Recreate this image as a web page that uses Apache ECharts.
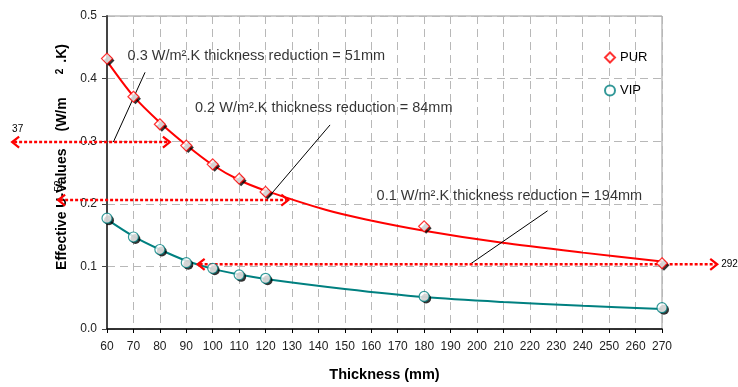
<!DOCTYPE html>
<html>
<head>
<meta charset="utf-8">
<script src="https://cdn.jsdelivr.net/npm/echarts@6/dist/echarts.min.js"></script>
<style>
html, body { margin: 0; padding: 0; background: #fff; }
#main { width: 738px; height: 387px; }
</style>
</head>
<body>
<div id="main"></div>
<script>
// measured points
var thickness = [60, 70, 80, 90, 100, 110, 120, 180, 270];
var purU = [0.432, 0.371, 0.327, 0.293, 0.263, 0.240, 0.219, 0.164, 0.105];
var vipU = [0.177, 0.147, 0.127, 0.106, 0.097, 0.0865, 0.081, 0.052, 0.034];

// trend curves
var purFitX = [60, 70, 80, 90, 100, 110, 120, 143, 158, 180, 209, 240, 270];
var purFitU = [0.428, 0.372, 0.330, 0.294, 0.262, 0.238, 0.221, 0.190, 0.175, 0.157, 0.138, 0.122, 0.108];
var vipFitX = [60, 70, 80, 90, 100, 110, 120, 150, 180, 210, 240, 270];
var vipFitU = [0.175, 0.148, 0.127, 0.109, 0.096, 0.087, 0.080, 0.064, 0.051, 0.043, 0.037, 0.032];

// red reduction arrows (thickness from / to, U level, end tag)
var arrowFrom = [24.1, 41.5, 94.3];
var arrowTo = [83.8, 128.6, 290.9];
var arrowLevel = [0.2986, 0.206, 0.1033];
var arrowTag = ['37', '52', '292'];

// callout texts and their leader lines
var noteText = [
  '0.3 W/m\u00b2.K thickness reduction = 51mm',
  '0.2 W/m\u00b2.K thickness reduction = 84mm',
  '0.1 W/m\u00b2.K thickness reduction = 194mm'
];
var noteX = [67.8, 93.3, 162.0];
var noteY = [0.4367, 0.3524, 0.2131];
var leaderFromX = [62.4, 121.0, 197.3];
var leaderFromY = [0.2986, 0.210, 0.1033];
var leaderToX = [74.4, 144.4, 226.7];
var leaderToY = [0.410, 0.326, 0.1888];

var FONT = "'Liberation Sans', Arial, sans-serif";
var RED = '#ff0000';
var TEAL = '#008080';

function zip(xs, ys) {
  return xs.map(function (x, i) { return [x, ys[i]]; });
}

var chartDom = document.getElementById('main');
var myChart = echarts.init(chartDom);

// 红色虚线箭头 (custom, not clipped to the grid)
function renderArrow(params, api) {
  var i = params.dataIndex;
  var p0 = api.coord([api.value(0), api.value(2)]);
  var p1 = api.coord([api.value(1), api.value(2)]);
  var hw = 7, hh = 5.5;
  var kids = [
    {
      type: 'line',
      shape: { x1: p0[0] + 2, y1: p0[1], x2: p1[0] - 2, y2: p1[1] },
      style: { stroke: RED, lineWidth: 2.5, lineDash: [3, 2], fill: null }
    },
    {
      type: 'polyline',
      shape: { points: [[p0[0] + hw, p0[1] - hh], [p0[0], p0[1]], [p0[0] + hw, p0[1] + hh]] },
      style: { stroke: RED, lineWidth: 2.2, fill: null }
    },
    {
      type: 'polyline',
      shape: { points: [[p1[0] - hw, p1[1] - hh], [p1[0], p1[1]], [p1[0] - hw, p1[1] + hh]] },
      style: { stroke: RED, lineWidth: 2.2, fill: null }
    }
  ];
  var tag = { type: 'text', style: { text: arrowTag[i], fill: '#000', font: '10px ' + FONT, verticalAlign: 'middle' } };
  if (i === 0) {
    tag.x = p0[0]; tag.y = p0[1] - 13; tag.style.align = 'left';
  } else if (i === 1) {
    tag.x = p0[0] + 1; tag.y = p0[1] - 14; tag.rotation = Math.PI / 2; tag.style.align = 'center';
  } else {
    tag.x = p1[0] + 4; tag.y = p1[1]; tag.style.align = 'left';
  }
  kids.push(tag);
  return { type: 'group', children: kids };
}

var markerBase = { type: 'scatter', silent: true, symbolSize: 10, symbolOffset: [2, 2], itemStyle: { color: '#000' }, z: 5 };

var series = [
  {
    name: 'PUR fit',
    type: 'line',
    data: zip(purFitX, purFitU),
    smooth: 0.3,
    symbol: 'none',
    lineStyle: { color: RED, width: 2 },
    z: 3
  },
  {
    name: 'VIP fit',
    type: 'line',
    data: zip(vipFitX, vipFitU),
    smooth: 0.3,
    symbol: 'none',
    lineStyle: { color: TEAL, width: 2 },
    z: 3
  },
  // black drop shadows behind markers
  Object.assign({}, markerBase, { name: 'PUR shadow', symbol: 'diamond', symbolSize: 11, data: zip(thickness, purU) }),
  Object.assign({}, markerBase, { name: 'VIP shadow', symbol: 'circle', data: zip(thickness, vipU) }),
  {
    name: 'PUR',
    type: 'scatter',
    data: zip(thickness, purU),
    symbol: 'diamond',
    symbolSize: 11,
    itemStyle: { color: '#fff', borderColor: RED, borderWidth: 1.2 },
    z: 6
  },
  {
    name: 'VIP',
    type: 'scatter',
    data: zip(thickness, vipU),
    symbol: 'circle',
    symbolSize: 10,
    itemStyle: { color: '#fff', borderColor: TEAL, borderWidth: 1.2 },
    z: 6
  },
  {
    // callout texts
    type: 'scatter',
    silent: true,
    symbolSize: 0,
    data: noteX.map(function (x, i) { return [x, noteY[i], noteText[i]]; }),
    label: {
      show: true,
      position: 'right',
      distance: 0,
      color: '#000',
      fontSize: 14.5,
      fontFamily: FONT,
      formatter: function (p) { return p.value[2]; }
    },
    z: 7
  },
  {
    type: 'custom',
    silent: true,
    clip: false,
    data: arrowFrom.map(function (x0, i) { return [x0, arrowTo[i], arrowLevel[i]]; }),
    encode: { x: [0, 1], y: 2 },
    renderItem: renderArrow,
    z: 5
  }
];

// leader lines
leaderFromX.forEach(function (x, i) {
  series.push({
    type: 'line',
    silent: true,
    symbol: 'none',
    data: [[x, leaderFromY[i]], [leaderToX[i], leaderToY[i]]],
    lineStyle: { color: '#000', width: 1 },
    z: 4
  });
});

var option = {
  animation: false,
  textStyle: { fontFamily: FONT },
  legend: {
    orient: 'vertical',
    left: 599,
    top: 46,
    itemWidth: 10,
    itemHeight: 10,
    itemGap: 20,
    textStyle: { color: '#000', fontSize: 13, fontFamily: FONT },
    data: ['PUR', 'VIP']
  },
  grid: {
    left: 107,
    right: 76,
    top: 16,
    bottom: 55,
    show: true,
    borderColor: '#999',
    borderWidth: 1
  },
  xAxis: {
    type: 'value',
    min: 60,
    max: 270,
    interval: 10,
    name: 'Thickness (mm)',
    nameLocation: 'middle',
    nameGap: 38,
    nameTextStyle: { color: '#000', fontSize: 14.5, fontWeight: 'bold', fontFamily: FONT },
    axisLine: { show: true, lineStyle: { color: '#000', width: 1.5 } },
    axisTick: { show: true, length: 4, lineStyle: { color: '#000' } },
    axisLabel: { color: '#222', fontSize: 12, margin: 12, fontFamily: FONT },
    splitLine: { show: true, lineStyle: { color: '#b8b8b8', type: [8, 5], width: 1 } }
  },
  yAxis: {
    type: 'value',
    min: 0,
    max: 0.5,
    interval: 0.1,
    name: '{a|Effective U-Values}{b|(W/m}{s|2}{c|.K)}',
    nameLocation: 'middle',
    nameGap: 34,
    nameTextStyle: {
      padding: [0, 0, 0, 31],
      rich: {
        a: { color: '#000', fontSize: 14, fontWeight: 'bold', fontFamily: FONT },
        b: { color: '#000', fontSize: 14, fontWeight: 'bold', fontFamily: FONT, padding: [0, 0, 0, 17] },
        s: { color: '#000', fontSize: 10, fontWeight: 'bold', fontFamily: FONT, verticalAlign: 'top', padding: [0, 0, 0, 23] },
        c: { color: '#000', fontSize: 14, fontWeight: 'bold', fontFamily: FONT, padding: [0, 0, 0, 6] }
      }
    },
    axisLine: { show: true, lineStyle: { color: '#444', width: 2 } },
    axisTick: { show: true, length: 5, lineStyle: { color: '#444' } },
    axisLabel: {
      color: '#222', fontSize: 12, margin: 10, fontFamily: FONT,
      formatter: function (v) { return v.toFixed(1); }
    },
    splitLine: { show: true, lineStyle: { color: '#b8b8b8', type: [8, 5], width: 1 } }
  },
  series: series
};

option && myChart.setOption(option);
</script>
</body>
</html>
